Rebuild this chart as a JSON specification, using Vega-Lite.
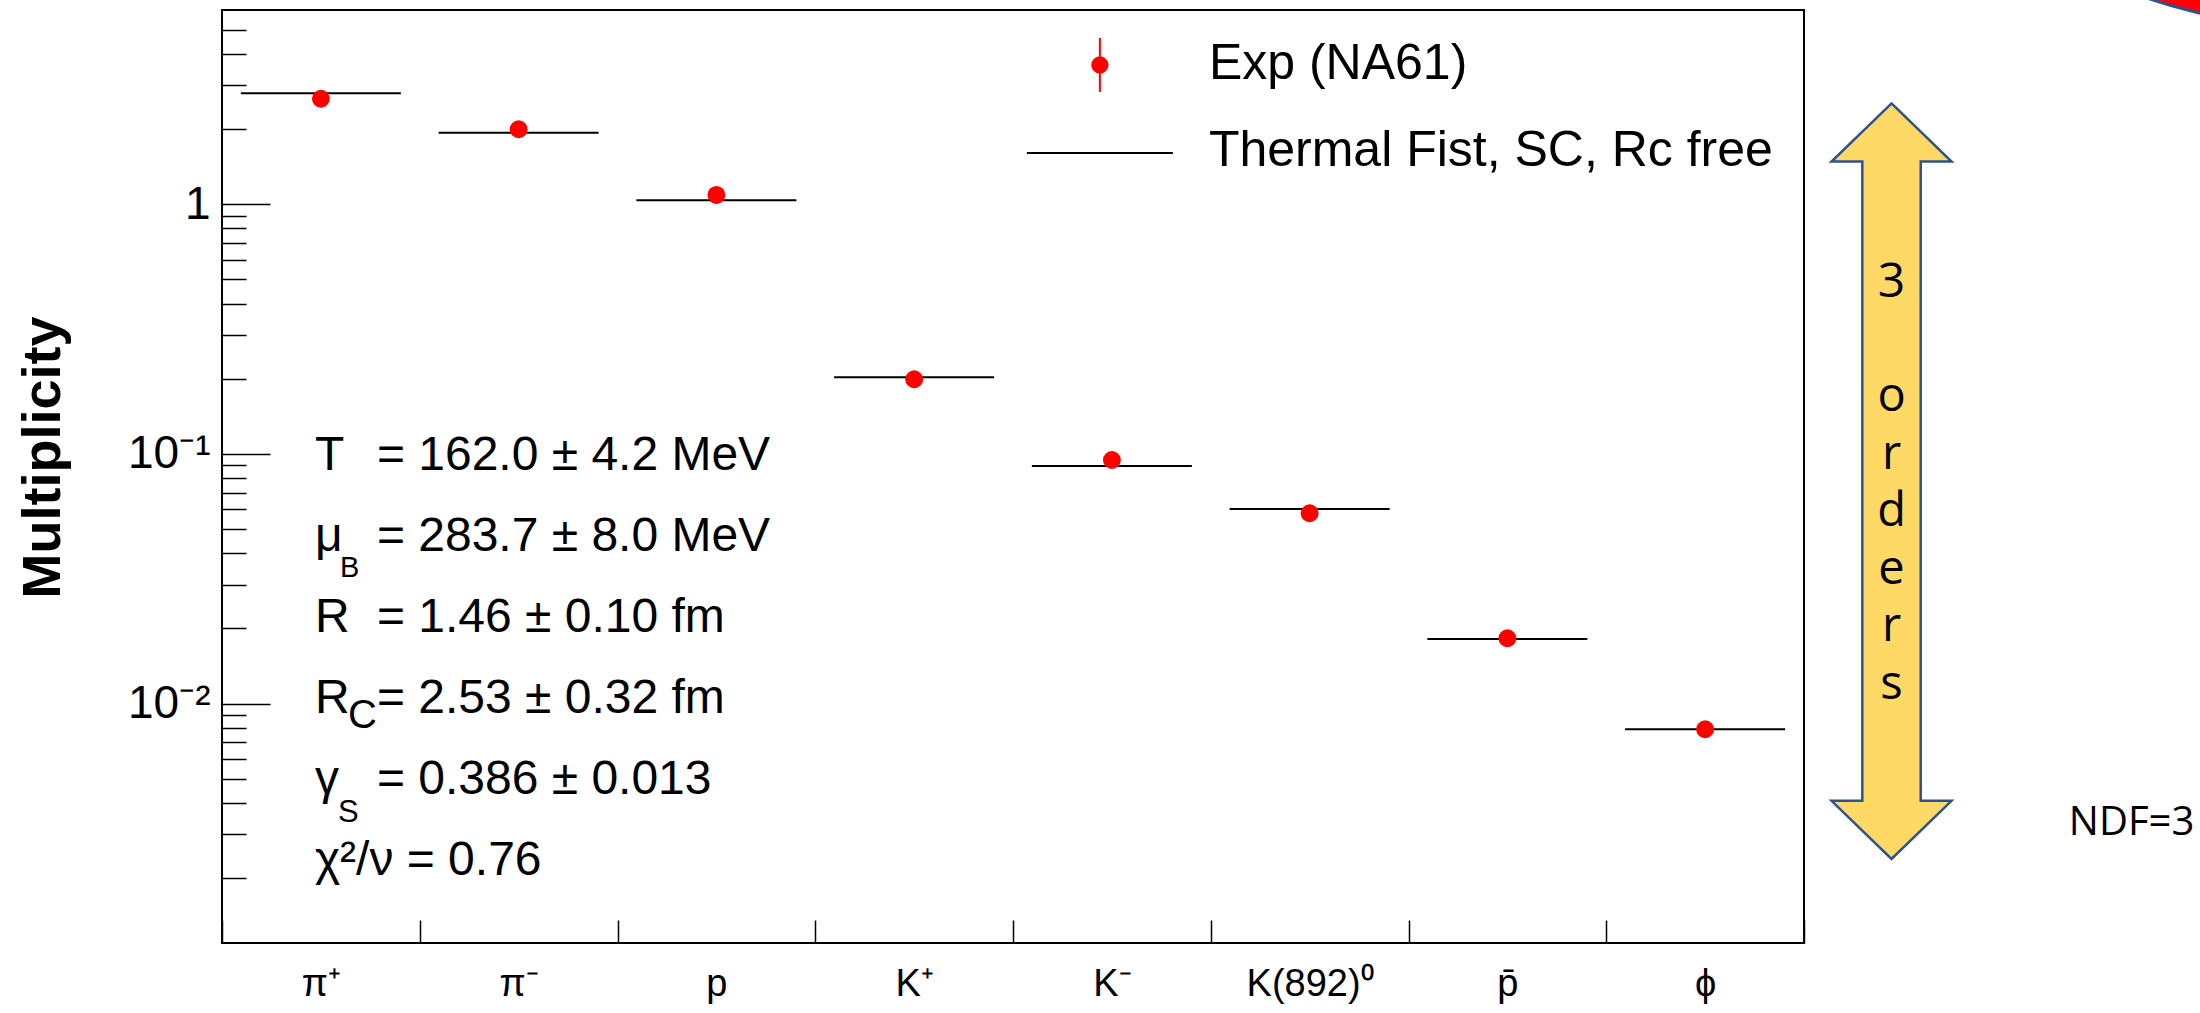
{
  "$schema": "https://vega.github.io/schema/vega-lite/v6.json",
  "width": 1582,
  "height": 933,
  "autosize": {"type": "none"},
  "padding": {"left": 222, "top": 10, "right": 396, "bottom": 70},
  "background": "white",
  "config": {
    "view": {"stroke": "black", "strokeWidth": 2},
    "font": "Liberation Sans",
    "axis": {"grid": false, "domain": false, "tickColor": "black", "labelColor": "black", "tickWidth": 1.5}
  },
  "data": {
    "values": [
      {"particle": "π⁺", "exp": 2.647, "model": 2.783},
      {"particle": "π⁻", "exp": 1.997, "model": 1.935},
      {"particle": "p", "exp": 1.09, "model": 1.038},
      {"particle": "K⁺", "exp": 0.1991, "model": 0.2028},
      {"particle": "K⁻", "exp": 0.0946, "model": 0.0895},
      {"particle": "K(892)⁰", "exp": 0.0579, "model": 0.0602},
      {"particle": "p̄", "exp": 0.01828, "model": 0.01816},
      {"particle": "ϕ", "exp": 0.0079, "model": 0.0079}
    ]
  },
  "layer": [
    {
      "mark": {"type": "tick", "orient": "horizontal", "size": 160, "thickness": 2, "opacity": 1, "color": "black"},
      "encoding": {
        "x": {
          "field": "particle", "type": "nominal", "sort": null,
          "scale": {"paddingInner": 0, "paddingOuter": 0},
          "axis": {
            "title": null, "tickBand": "extent", "tickSize": -23, "tickColor": "black", "tickWidth": 1.5,
            "domain": false, "grid": false, "labelAngle": 0, "labelFont": "Liberation Sans", "labelFontSize": 38,
            "labelColor": "black", "labelPadding": 64, "labelBaseline": "middle"
          }
        },
        "y": {
          "field": "model", "type": "quantitative",
          "scale": {"type": "log", "domain": [0.0011, 6], "nice": false},
          "axis": {
            "title": "Multiplicity", "titleFont": "Liberation Sans", "titleFontSize": 54, "titleFontWeight": "bold",
            "titleColor": "black", "titleAngle": -90, "titleX": -163, "titleY": 447, "titleAlign": "center",
            "titleBaseline": "alphabetic",
            "values": [0.002, 0.003, 0.004, 0.005, 0.006, 0.007, 0.008, 0.009, 0.01, 0.02, 0.03, 0.04, 0.05, 0.06, 0.07, 0.08, 0.09, 0.1, 0.2, 0.3, 0.4, 0.5, 0.6, 0.7, 0.8, 0.9, 1, 2, 3, 4, 5],
            "tickSize": {"condition": {"test": "datum.value === 1 || datum.value === 0.1 || datum.value === 0.01", "value": -48}, "value": -24},
            "tickWidth": 1.5, "tickColor": "black",
            "labelExpr": "datum.value === 1 ? '1' : datum.value === 0.1 ? '10⁻¹' : datum.value === 0.01 ? '10⁻²' : ''",
            "labelFont": "Liberation Sans", "labelFontSize": 46, "labelColor": "black", "labelPadding": 60,
            "labelOverlap": false, "labelFlush": false, "labelBound": false, "labelBaseline": "middle",
            "domain": false, "grid": false
          }
        }
      }
    },
    {
      "mark": {"type": "point", "filled": true, "size": 320, "opacity": 1, "shape": "circle", "color": "#ff0000"},
      "encoding": {
        "x": {"field": "particle", "type": "nominal", "sort": null},
        "y": {"field": "exp", "type": "quantitative", "scale": {"type": "log", "domain": [0.0011, 6], "nice": false}}
      }
    },
    {
      "data": {"values": [{}]},
      "mark": {"type": "rule", "color": "#ff0000", "strokeWidth": 2, "xOffset": -12},
      "encoding": {
        "x": {"datum": "K⁻", "type": "nominal"},
        "y": {"datum": 4.636, "type": "quantitative", "scale": {"type": "log", "domain": [0.0011, 6], "nice": false}},
        "y2": {"datum": 2.817}
      }
    },
    {
      "data": {"values": [{}]},
      "mark": {"type": "point", "filled": true, "size": 300, "opacity": 1, "shape": "circle", "color": "#ff0000", "xOffset": -12},
      "encoding": {
        "x": {"datum": "K⁻", "type": "nominal"},
        "y": {"datum": 3.613, "type": "quantitative", "scale": {"type": "log", "domain": [0.0011, 6], "nice": false}}
      }
    },
    {
      "data": {"values": [{}]},
      "mark": {"type": "tick", "orient": "horizontal", "size": 146, "thickness": 2, "opacity": 1, "color": "black", "xOffset": -12},
      "encoding": {
        "x": {"datum": "K⁻", "type": "nominal"},
        "y": {"datum": 1.605, "type": "quantitative", "scale": {"type": "log", "domain": [0.0011, 6], "nice": false}}
      }
    },
    {
      "data": {"values": [{}]},
      "mark": {"type": "text", "text": "Exp (NA61)", "font": "Liberation Sans", "fontSize": 50, "align": "left", "baseline": "middle", "dx": 97, "color": "black"},
      "encoding": {
        "x": {"datum": "K⁻", "type": "nominal"},
        "y": {"datum": 3.646, "type": "quantitative", "scale": {"type": "log", "domain": [0.0011, 6], "nice": false}}
      }
    },
    {
      "data": {"values": [{}]},
      "mark": {"type": "text", "text": "Thermal Fist, SC, Rc free", "font": "Liberation Sans", "fontSize": 50, "align": "left", "baseline": "middle", "dx": 97, "color": "black"},
      "encoding": {
        "x": {"datum": "K⁻", "type": "nominal"},
        "y": {"datum": 1.635, "type": "quantitative", "scale": {"type": "log", "domain": [0.0011, 6], "nice": false}}
      }
    },
    {
      "data": {"values": [{}]},
      "mark": {"type": "text", "text": ["T", "μ", "R", "R", "γ", "χ²/ν = 0.76"], "lineHeight": 81, "font": "Liberation Sans", "fontSize": 48, "align": "left", "baseline": "alphabetic", "dx": -6, "color": "black"},
      "encoding": {
        "x": {"datum": "π⁺", "type": "nominal"},
        "y": {"datum": 0.0863, "type": "quantitative", "scale": {"type": "log", "domain": [0.0011, 6], "nice": false}}
      }
    },
    {
      "data": {"values": [{}]},
      "mark": {"type": "text", "text": ["= 162.0 ± 4.2 MeV", "= 283.7 ± 8.0 MeV", "= 1.46 ± 0.10 fm", "= 2.53 ± 0.32 fm", "= 0.386 ± 0.013"], "lineHeight": 81, "font": "Liberation Sans", "fontSize": 48, "align": "left", "baseline": "alphabetic", "dx": 56, "color": "black"},
      "encoding": {
        "x": {"datum": "π⁺", "type": "nominal"},
        "y": {"datum": 0.0863, "type": "quantitative", "scale": {"type": "log", "domain": [0.0011, 6], "nice": false}}
      }
    },
    {
      "data": {"values": [{}]},
      "mark": {"type": "text", "text": "B", "font": "Liberation Sans", "fontSize": 29, "align": "left", "baseline": "alphabetic", "dx": 19, "color": "black"},
      "encoding": {
        "x": {"datum": "π⁺", "type": "nominal"},
        "y": {"datum": 0.03216, "type": "quantitative", "scale": {"type": "log", "domain": [0.0011, 6], "nice": false}}
      }
    },
    {
      "data": {"values": [{}]},
      "mark": {"type": "text", "text": "C", "font": "Liberation Sans", "fontSize": 40, "align": "left", "baseline": "alphabetic", "dx": 27, "color": "black"},
      "encoding": {
        "x": {"datum": "π⁺", "type": "nominal"},
        "y": {"datum": 0.007991, "type": "quantitative", "scale": {"type": "log", "domain": [0.0011, 6], "nice": false}}
      }
    },
    {
      "data": {"values": [{}]},
      "mark": {"type": "text", "text": "S", "font": "Liberation Sans", "fontSize": 31, "align": "left", "baseline": "alphabetic", "dx": 17, "color": "black"},
      "encoding": {
        "x": {"datum": "π⁺", "type": "nominal"},
        "y": {"datum": 0.003359, "type": "quantitative", "scale": {"type": "log", "domain": [0.0011, 6], "nice": false}}
      }
    },
    {
      "data": {"values": [{}]},
      "mark": {"type": "point", "shape": "M0,-1L0.1588,-0.8462L0.0773,-0.8462L0.0773,0.846L0.1588,0.846L0,1L-0.1588,0.846L-0.0773,0.846L-0.0773,-0.8462L-0.1588,-0.8462Z", "size": 570931, "filled": true, "fill": "#FFD966", "stroke": "#2F528F", "strokeWidth": 2.5, "opacity": 1, "fillOpacity": 1, "strokeOpacity": 1, "xOffset": 186.4},
      "encoding": {
        "x": {"datum": "ϕ", "type": "nominal"},
        "y": {"datum": 0.07781, "type": "quantitative", "scale": {"type": "log", "domain": [0.0011, 6], "nice": false}}
      }
    },
    {
      "data": {"values": [{}]},
      "mark": {"type": "point", "shape": "M-1,0A1,0.579,0,1,0,1,0A1,0.579,0,1,0,-1,0Z", "size": 630436, "filled": true, "fill": "#ff0000", "stroke": "#2F528F", "strokeWidth": 3, "opacity": 1, "fillOpacity": 1, "strokeOpacity": 1, "xOffset": 643.7},
      "encoding": {
        "x": {"datum": "ϕ", "type": "nominal"},
        "y": {"datum": 41.6, "type": "quantitative", "scale": {"type": "log", "domain": [0.0011, 6], "nice": false}}
      }
    },
    {
      "data": {"values": [{}]},
      "mark": {"type": "text", "text": "3", "font": "Open Sans", "fontSize": 48, "align": "center", "baseline": "alphabetic", "dx": 186.4, "color": "black"},
      "encoding": {
        "x": {"datum": "ϕ", "type": "nominal"},
        "y": {"datum": 0.4239, "type": "quantitative", "scale": {"type": "log", "domain": [0.0011, 6], "nice": false}}
      }
    },
    {
      "data": {"values": [{}]},
      "mark": {"type": "text", "text": ["o", "r", "d", "e", "r", "s"], "lineHeight": 57.5, "font": "Open Sans", "fontSize": 47, "align": "center", "baseline": "alphabetic", "dx": 186.4, "color": "black"},
      "encoding": {
        "x": {"datum": "ϕ", "type": "nominal"},
        "y": {"datum": 0.1483, "type": "quantitative", "scale": {"type": "log", "domain": [0.0011, 6], "nice": false}}
      }
    },
    {
      "data": {"values": [{}]},
      "mark": {"type": "text", "text": "NDF=3", "font": "Open Sans", "fontSize": 40, "align": "left", "baseline": "alphabetic", "dx": 363.7, "color": "black"},
      "encoding": {
        "x": {"datum": "ϕ", "type": "nominal"},
        "y": {"datum": 0.002975, "type": "quantitative", "scale": {"type": "log", "domain": [0.0011, 6], "nice": false}}
      }
    }
  ]
}
